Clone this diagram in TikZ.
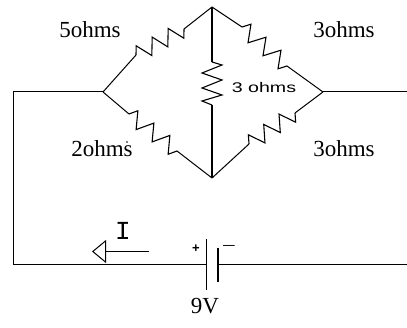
\documentclass[tikz,border=0pt]{standalone}
\usepackage{fontspec}
\setmainfont{Liberation Serif}
\newfontfamily\sansf{Liberation Sans}
\newfontfamily\monof{Liberation Mono}
\usetikzlibrary{arrows.meta,calc}
\newcommand\zigres[2]{%
  \draw[res] (#1)
    -- ($(#1)!0.083!(#2)!8pt!90:(#2)$)
    -- ($(#1)!0.25!(#2)!8pt!-90:(#2)$)
    -- ($(#1)!0.417!(#2)!8pt!90:(#2)$)
    -- ($(#1)!0.583!(#2)!8pt!-90:(#2)$)
    -- ($(#1)!0.75!(#2)!8pt!90:(#2)$)
    -- ($(#1)!0.917!(#2)!8pt!-90:(#2)$)
    -- (#2);}
\begin{document}
\begin{tikzpicture}[x=1pt,y=-1pt,
  wire/.style={line width=1pt},
  thickwire/.style={line width=1.4pt},
  res/.style={line width=1.1pt, line join=miter},
  lbl/.style={font=\fontsize{23}{23}\selectfont, anchor=base, inner sep=0pt},
  plate/.style={line width=1.4pt}
  ]
\useasboundingbox (0,0) rectangle (407,328);
% bridge corners
\coordinate (L) at (103,92);
\coordinate (T) at (212,7);
\coordinate (R) at (323,92);
\coordinate (B) at (212,178);
% resistor ends
\coordinate (tl1) at (136,55); \coordinate (tl2) at (184,29);
\coordinate (tr1) at (242,27); \coordinate (tr2) at (287,66);
\coordinate (bl1) at (129,114); \coordinate (bl2) at (177,151);
\coordinate (br1) at (249,144); \coordinate (br2) at (295,113);
\coordinate (m1) at (212,62); \coordinate (m2) at (212,105);
% outer loop
\coordinate (c1) at (13,92);
\coordinate (c2) at (13,265);
\coordinate (bp) at (206.7,265);
\coordinate (bm) at (218,265);
\coordinate (re) at (407.5,265);
\coordinate (rr) at (407.5,92);
\coordinate (bpt) at (206.7,239); \coordinate (bpb) at (206.7,290);
\coordinate (bmt) at (218,248); \coordinate (bmb) at (218,282);
\coordinate (at) at (149,251.5); \coordinate (ah) at (92,251.5);

% diagonal resistors
\draw[wire] (L) -- (tl1); \zigres{tl1}{tl2} \draw[wire] (tl2) -- (T);
\draw[wire] (T) -- (tr1); \zigres{tr1}{tr2} \draw[wire] (tr2) -- (R);
\draw[wire] (L) -- (bl1); \zigres{bl1}{bl2} \draw[wire] (bl2) -- (B);
\draw[wire] (B) -- (br1); \zigres{br1}{br2} \draw[wire] (br2) -- (R);
% middle resistor
\draw[thickwire] (T) -- (m1);
\draw[res] (m1) -- (222,65) -- (202,73) -- (222,80) -- (202,88) -- (222,95) -- (202,101) -- (m2);
\draw[thickwire] (m2) -- (B);
% outer wires
\draw[wire] (L) -- (c1) -- (c2) -- (bp);
\draw[wire] (bm) -- (re);
\draw[wire] (R) -- (rr);
% battery
\draw[plate] (bpt) -- (bpb);
\draw[plate] (bmt) -- (bmb);
% current arrow
\draw[wire, -{Triangle[open, length=14pt, width=23pt]}] (at) -- (ah);

% labels
\node[lbl] (r1) at (90,38) {5ohms};
\node[lbl] (r2) at (102,157) {2ohms};
\fill (127,142) circle (0.8pt);
\node[lbl] (r3) at (344,38) {3ohms};
\node[lbl] (r4) at (344,157) {3ohms};
\node[lbl] (v) at (205,314) {9V};
\node[anchor=base, inner sep=0pt, font=\sansf\fontsize{14}{14}\selectfont] (r5) at (264,93) {\scalebox{1.4}[1]{3 ohms}};
\node[anchor=base, inner sep=0pt, font=\monof\fontsize{26}{26}\selectfont] (I) at (123,240) {I};
\node[inner sep=0pt, font=\sansf\bfseries\fontsize{13}{13}\selectfont] (plus) at (196,248.5) {+};
\node[inner sep=0pt, font=\sansf\fontsize{14}{14}\selectfont] (minus) at (229,247.7) {\scalebox{1.5}[1]{–}};
\end{tikzpicture}
\end{document}
